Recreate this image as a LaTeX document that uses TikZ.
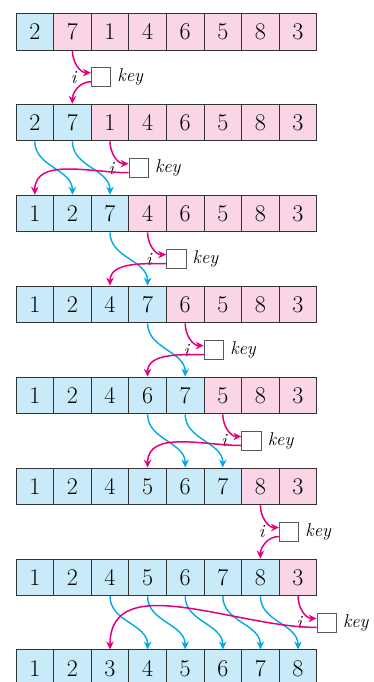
\documentclass[tikz,border=0pt]{standalone}
\usepackage{tikz}
\usetikzlibrary{arrows.meta}
\definecolor{sortedfill}{RGB}{201,234,248}
\definecolor{restfill}{RGB}{249,213,230}
\definecolor{keyline}{RGB}{230,0,126}
\definecolor{shiftline}{RGB}{0,169,230}
\tikzset{
  font={\fontsize{24pt}{28}\selectfont},
  cell/.style={draw=black!80,line width=1pt,minimum width=37.6pt,minimum height=36.7pt,inner sep=0pt},
  sorted/.style={cell,fill=sortedfill},
  rest/.style={cell,fill=restfill},
  keybox/.style={draw=black!65,line width=1pt,fill=white,minimum size=19.5pt,inner sep=0pt,
    label={[font=\fontsize{18.5pt}{22}\selectfont,label distance=2.5pt]right:\textit{key}},
    label={[font=\fontsize{18.5pt}{22}\selectfont,label distance=10pt]left:\textit{i}}},
  keyarrow/.style={draw=keyline,line width=1.5pt,-{Stealth[length=8pt,width=7.5pt]}},
  shiftarrow/.style={draw=shiftline,line width=1.4pt,-{Stealth[length=8pt,width=7.5pt]}}}

\begin{document}
\begin{tikzpicture}[x=1pt,y=1pt]
\useasboundingbox (0,0) rectangle (373,-682);
% row 1
\node [sorted] (r1c0) at (34.8,-31.7) {2};
\node [rest] (r1c1) at (72.4,-31.7) {7};
\node [rest] (r1c2) at (110,-31.7) {1};
\node [rest] (r1c3) at (147.6,-31.7) {4};
\node [rest] (r1c4) at (185.2,-31.7) {6};
\node [rest] (r1c5) at (222.8,-31.7) {5};
\node [rest] (r1c6) at (260.4,-31.7) {8};
\node [rest] (r1c7) at (298,-31.7) {3};
% row 2
\node [sorted] (r2c0) at (34.8,-122.6) {2};
\node [sorted] (r2c1) at (72.4,-122.6) {7};
\node [rest] (r2c2) at (110,-122.6) {1};
\node [rest] (r2c3) at (147.6,-122.6) {4};
\node [rest] (r2c4) at (185.2,-122.6) {6};
\node [rest] (r2c5) at (222.8,-122.6) {5};
\node [rest] (r2c6) at (260.4,-122.6) {8};
\node [rest] (r2c7) at (298,-122.6) {3};
% row 3
\node [sorted] (r3c0) at (34.8,-213.6) {1};
\node [sorted] (r3c1) at (72.4,-213.6) {2};
\node [sorted] (r3c2) at (110,-213.6) {7};
\node [rest] (r3c3) at (147.6,-213.6) {4};
\node [rest] (r3c4) at (185.2,-213.6) {6};
\node [rest] (r3c5) at (222.8,-213.6) {5};
\node [rest] (r3c6) at (260.4,-213.6) {8};
\node [rest] (r3c7) at (298,-213.6) {3};
% row 4
\node [sorted] (r4c0) at (34.8,-304.5) {1};
\node [sorted] (r4c1) at (72.4,-304.5) {2};
\node [sorted] (r4c2) at (110,-304.5) {4};
\node [sorted] (r4c3) at (147.6,-304.5) {7};
\node [rest] (r4c4) at (185.2,-304.5) {6};
\node [rest] (r4c5) at (222.8,-304.5) {5};
\node [rest] (r4c6) at (260.4,-304.5) {8};
\node [rest] (r4c7) at (298,-304.5) {3};
% row 5
\node [sorted] (r5c0) at (34.8,-395.5) {1};
\node [sorted] (r5c1) at (72.4,-395.5) {2};
\node [sorted] (r5c2) at (110,-395.5) {4};
\node [sorted] (r5c3) at (147.6,-395.5) {6};
\node [sorted] (r5c4) at (185.2,-395.5) {7};
\node [rest] (r5c5) at (222.8,-395.5) {5};
\node [rest] (r5c6) at (260.4,-395.5) {8};
\node [rest] (r5c7) at (298,-395.5) {3};
% row 6
\node [sorted] (r6c0) at (34.8,-486.4) {1};
\node [sorted] (r6c1) at (72.4,-486.4) {2};
\node [sorted] (r6c2) at (110,-486.4) {4};
\node [sorted] (r6c3) at (147.6,-486.4) {5};
\node [sorted] (r6c4) at (185.2,-486.4) {6};
\node [sorted] (r6c5) at (222.8,-486.4) {7};
\node [rest] (r6c6) at (260.4,-486.4) {8};
\node [rest] (r6c7) at (298,-486.4) {3};
% row 7
\node [sorted] (r7c0) at (34.8,-577.4) {1};
\node [sorted] (r7c1) at (72.4,-577.4) {2};
\node [sorted] (r7c2) at (110,-577.4) {4};
\node [sorted] (r7c3) at (147.6,-577.4) {5};
\node [sorted] (r7c4) at (185.2,-577.4) {6};
\node [sorted] (r7c5) at (222.8,-577.4) {7};
\node [sorted] (r7c6) at (260.4,-577.4) {8};
\node [rest] (r7c7) at (298,-577.4) {3};
% row 8
\node [sorted] (r8c0) at (34.8,-668.3) {1};
\node [sorted] (r8c1) at (72.4,-668.3) {2};
\node [sorted] (r8c2) at (110,-668.3) {3};
\node [sorted] (r8c3) at (147.6,-668.3) {4};
\node [sorted] (r8c4) at (185.2,-668.3) {5};
\node [sorted] (r8c5) at (222.8,-668.3) {6};
\node [sorted] (r8c6) at (260.4,-668.3) {7};
\node [sorted] (r8c7) at (298,-668.3) {8};
% key boxes
\node [keybox] (key1) at (101.2,-77.2) {};
\node [keybox] (key2) at (138.8,-168.2) {};
\node [keybox] (key3) at (176.4,-259.1) {};
\node [keybox] (key4) at (214,-350.1) {};
\node [keybox] (key5) at (251.6,-441) {};
\node [keybox] (key6) at (289.2,-532) {};
\node [keybox] (key7) at (326.8,-622.9) {};
% shifted values
\draw [shiftarrow] (r2c0.south) to[out=-90,in=90] (r3c1.north);
\draw [shiftarrow] (r2c1.south) to[out=-90,in=90] (r3c2.north);
\draw [shiftarrow] (r3c2.south) to[out=-90,in=90] (r4c3.north);
\draw [shiftarrow] (r4c3.south) to[out=-90,in=90] (r5c4.north);
\draw [shiftarrow] (r5c3.south) to[out=-90,in=90] (r6c4.north);
\draw [shiftarrow] (r5c4.south) to[out=-90,in=90] (r6c5.north);
\draw [shiftarrow] (r7c2.south) to[out=-90,in=90] (r8c3.north);
\draw [shiftarrow] (r7c3.south) to[out=-90,in=90] (r8c4.north);
\draw [shiftarrow] (r7c4.south) to[out=-90,in=90] (r8c5.north);
\draw [shiftarrow] (r7c5.south) to[out=-90,in=90] (r8c6.north);
\draw [shiftarrow] (r7c6.south) to[out=-90,in=90] (r8c7.north);
% key out and back in
\draw [keyarrow] (r1c1.south) to[out=-90,in=180] ([yshift=4.5pt]key1.west);
\draw [keyarrow] ([yshift=-4.5pt]key1.west) to[out=180,in=90] (r2c1.north);
\draw [keyarrow] (r2c2.south) to[out=-90,in=180] ([yshift=4.5pt]key2.west);
\draw [keyarrow] ([yshift=-4.5pt]key2.west) to[out=180,in=90] (r3c0.north);
\draw [keyarrow] (r3c3.south) to[out=-90,in=180] ([yshift=4.5pt]key3.west);
\draw [keyarrow] ([yshift=-4.5pt]key3.west) to[out=180,in=90] (r4c2.north);
\draw [keyarrow] (r4c4.south) to[out=-90,in=180] ([yshift=4.5pt]key4.west);
\draw [keyarrow] ([yshift=-4.5pt]key4.west) to[out=180,in=90] (r5c3.north);
\draw [keyarrow] (r5c5.south) to[out=-90,in=180] ([yshift=4.5pt]key5.west);
\draw [keyarrow] ([yshift=-4.5pt]key5.west) to[out=180,in=90] (r6c3.north);
\draw [keyarrow] (r6c6.south) to[out=-90,in=180] ([yshift=4.5pt]key6.west);
\draw [keyarrow] ([yshift=-4.5pt]key6.west) to[out=180,in=90] (r7c6.north);
\draw [keyarrow] (r7c7.south) to[out=-90,in=180] ([yshift=4.5pt]key7.west);
\draw [keyarrow] ([yshift=-4.5pt]key7.west) to[out=180,in=90] (r8c2.north);
\end{tikzpicture}
\end{document}
